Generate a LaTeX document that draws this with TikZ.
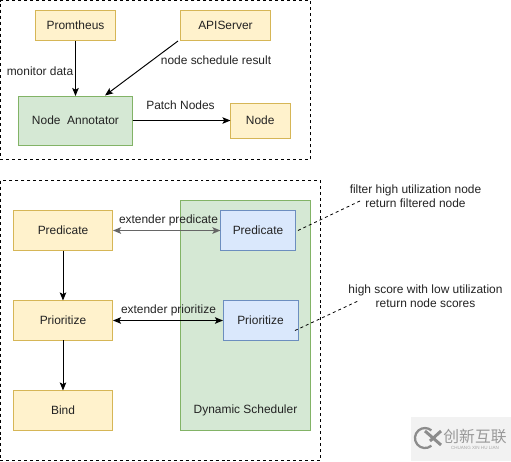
\documentclass[tikz,border=0pt]{standalone}
\usepackage{fontspec}
\setmainfont{Liberation Sans}
\newfontfamily\cjkfont{Noto Sans CJK SC}
\usetikzlibrary{arrows.meta,positioning}
\definecolor{boxyellow}{HTML}{FFF2CC}
\definecolor{lineyellow}{HTML}{D6B656}
\definecolor{boxgreen}{HTML}{D5E8D4}
\definecolor{linegreen}{HTML}{82B366}
\definecolor{boxblue}{HTML}{DAE8FC}
\definecolor{lineblue}{HTML}{6C8EBF}
\definecolor{inktext}{HTML}{222222}

\begin{document}
\begin{tikzpicture}[
    x=0.02cm, y=-0.02cm,
    every node/.style={font=\fontsize{6.8}{8}\selectfont, text=inktext},
    base/.style={draw, line width=0.55pt, inner sep=0pt, outer sep=0pt, align=center},
    yellowbox/.style={base, fill=boxyellow, draw=lineyellow},
    greenbox/.style={base, fill=boxgreen, draw=linegreen},
    bluebox/.style={base, fill=boxblue, draw=lineblue, minimum width=1.5cm, minimum height=0.8cm},
    stagebox/.style={yellowbox, minimum width=2cm, minimum height=0.8cm},
    frame/.style={draw, dashed, line width=0.55pt, dash pattern=on 1.7pt off 1.7pt, inner sep=0pt, outer sep=0pt},
    arrow/.style={-{Stealth[length=2.6mm*0.62, width=2.1mm*0.62, inset=0.35mm]}, line width=0.55pt},
    biarrow/.style={{Stealth[length=2.6mm*0.62, width=2.1mm*0.62, inset=0.35mm]}-{Stealth[length=2.6mm*0.62, width=2.1mm*0.62, inset=0.35mm]}, line width=0.55pt},
    note/.style={draw, dashed, line width=0.45pt, dash pattern=on 1.7pt off 1.7pt},
    plain/.style={align=center, inner sep=0pt}
]
\useasboundingbox (0,0) rectangle (511,461);

% dashed frames
\node[frame, minimum width=6.2cm, minimum height=3.19cm, anchor=north west] (topframe) at (0.5,0.5) {};
\node[frame, minimum width=6.4cm, minimum height=5.6cm, anchor=north west] (lowframe) at (0.5,180.5) {};

% annotator part
\node[yellowbox, minimum width=1.6cm, minimum height=0.6cm, anchor=north west] (prom) at (35.5,10.5) {Promtheus};
\node[yellowbox, minimum width=1.8cm, minimum height=0.6cm, anchor=north west] (api) at (180.5,10.5) {APIServer};
\node[greenbox, minimum width=2.3cm, minimum height=0.98cm, anchor=north west] (annot) at (18,96) {Node\ \ Annotator};
\node[yellowbox, minimum width=1.19cm, minimum height=0.7cm, anchor=west] (target) at (230.5,120.5) {Node};

\coordinate (apiout) at (178,41);
\coordinate (annotin) at (105,95.5);

\node[plain] (monitor) at (40,71) {monitor data};
\node[plain] (schedres) at (216,60.5) {node schedule result};
\node[plain] (patch) at (180.5,105) {Patch Nodes};

\draw[arrow] (prom) -- (prom |- annot.north);
\draw[arrow] (apiout) -- (annotin);
\draw[arrow] (annot.east) -- (target.west);

% scheduler part
\node[greenbox, minimum width=2.6cm, minimum height=4.6cm, anchor=north west] (sched) at (180.5,200.5) {};
\node[plain] (schedlabel) at (245.5,410.5) {Dynamic Scheduler};

\node[stagebox, anchor=north west] (pred) at (13,210.5) {Predicate};
\node[stagebox, below=1cm of pred] (prio) {Prioritize};
\node[stagebox, below=1cm of prio] (bind) {Bind};

\node[bluebox, anchor=north west] (xpred) at (220.5,210.5) {Predicate};
\node[bluebox, anchor=north west] (xprio) at (223,300.5) {Prioritize};

\draw[arrow] (pred) -- (prio);
\draw[arrow] (prio) -- (bind);
\draw[biarrow, line width=1pt, draw=black!60] (pred) -- (xpred);
\draw[biarrow] (prio) -- (xprio);

\node[plain] (xpredlabel) at (168.5,220.5) {extender predicate};
\node[plain] (xpriolabel) at (168.5,310.5) {extender prioritize};

% notes on the right
\node[plain] (filternote) at (415.5,196) {filter high utilization node\\return filtered node};
\node[plain] (scorenote) at (425.5,296) {high score with low utilization\\return node scores};

\coordinate (filterfoot) at (298,230.5);
\coordinate (filterhead) at (362,200);
\coordinate (scorefoot) at (295,330.5);
\coordinate (scorehead) at (358,301);
\draw[note] (filterfoot) -- (filterhead);
\draw[note] (scorefoot) -- (scorehead);

% corner mark
\fill[black!5] (411,417) rectangle (511,461);
\node[plain, text=black!40, font=\cjkfont\fontsize{9}{10}\selectfont] (markcn) at (475,437) {创新互联};
\node[plain, text=black!35, font=\fontsize{2.6}{3}\selectfont] (markpin) at (475,448) {CHUANG XIN HU LIAN};
\draw[black!45, line width=1.3pt] (431.4,445.7) arc (50:310:10);
\draw[black!45, line width=1.7pt] (425,431) -- (441,445) (441,431) -- (430,441);
\end{tikzpicture}
\end{document}
